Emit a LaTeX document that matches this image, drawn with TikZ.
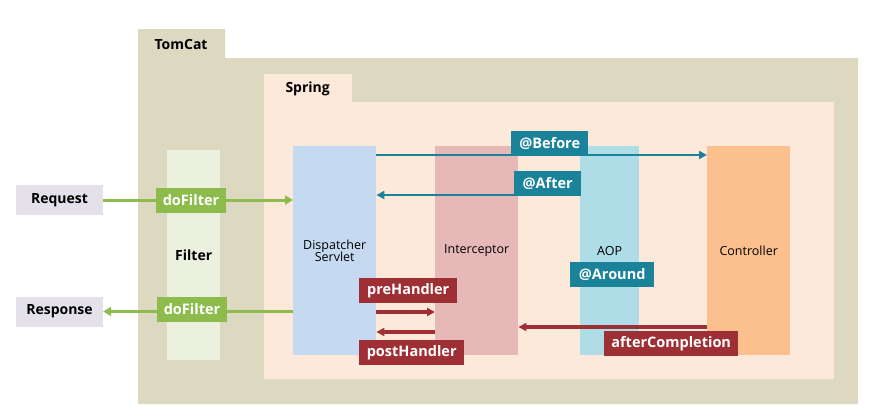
\documentclass[tikz,border=0pt]{standalone}
\usepackage{fontspec}
\setmainfont{Open Sans}
\usetikzlibrary{arrows.meta}
\definecolor{tomcatbg}{HTML}{DDD8C0}
\definecolor{springbg}{HTML}{FDE9D9}
\definecolor{filterbg}{HTML}{EBF1DE}
\definecolor{dispbg}{HTML}{C5D9F1}
\definecolor{interbg}{HTML}{E6B9B8}
\definecolor{aopbg}{HTML}{AEDDE8}
\definecolor{ctrlbg}{HTML}{FBC08E}
\definecolor{greenc}{HTML}{8DBB4C}
\definecolor{tealc}{HTML}{1A8399}
\definecolor{redc}{HTML}{9E2F35}
\definecolor{reqbg}{HTML}{E4E1EA}
\tikzset{
  column/.style={anchor=north west, inner sep=0pt, minimum width=#1, minimum height=209pt, font=\fontsize{12.5}{14}\selectfont, align=center},
  endbox/.style={fill=reqbg, inner sep=0pt, minimum width=87pt, minimum height=30pt, font=\fontsize{14}{16}\selectfont\bfseries},
  lbl/.style={fill=#1, text=white, inner sep=0pt, minimum height=25pt, font=\fontsize{14.5}{16}\selectfont\bfseries},
  garrow/.style={draw=greenc, line width=3pt, -{Triangle[width=9pt,length=8pt]}},
  tarrow/.style={draw=tealc, line width=2.8pt, -{Triangle[width=8pt,length=8pt]}},
  rarrow/.style={draw=redc, line width=3.2pt, -{Triangle[width=8pt,length=8pt]}},
  title/.style={font=\fontsize{14}{16}\selectfont\bfseries, anchor=west}
}
\begin{document}
\begin{tikzpicture}[x=1pt,y=-1pt]
\useasboundingbox (0,0) rectangle (871,418);
% containers
\fill[tomcatbg] (138,29) -- (225,29) -- (225,58) -- (858,58) -- (858,404) -- (138,404) -- cycle;
\node[title] (tomcat) at (151,44) {TomCat};
\fill[springbg] (264,74) -- (352,74) -- (352,102) -- (834,102) -- (834,379) -- (264,379) -- cycle;
\node[title] (spring) at (282,89) {Spring};
% columns
\node[column=53pt, minimum height=210pt, fill=filterbg, font=\fontsize{14}{16}\selectfont\bfseries] (filter) at (167,150) {Filter};
\node[column=83pt, fill=dispbg] (disp) at (293,146) {Dispatcher\\[-2pt]Servlet};
\node[column=83pt, fill=interbg] (inter) at (435,146) {\raisebox{-2pt}{Interceptor}};
\node[column=59pt, fill=aopbg] (aop) at (580,146) {\raisebox{-2pt}{AOP}};
\node[column=83pt, fill=ctrlbg] (ctrl) at (707,146) {\raisebox{-2pt}{Controller}};
% request / response
\node[endbox] (req) at (59.5,200) {Request};
\node[endbox] (resp) at (59.5,311.5) {Response};
% green arrows
\draw[garrow] (req.east) -- (disp.west |- req.east);
\draw[garrow] (disp.west |- resp.east) -- (resp.east);
\node[lbl=greenc, minimum width=70pt] (df1) at (191,200) {doFilter};
\node[lbl=greenc, minimum width=70pt] (df2) at (192,309) {doFilter};
% teal arrows
\coordinate (bstart) at (disp.east |- 0,155);
\coordinate (bend) at (ctrl.west |- 0,155);
\draw[tarrow] (bstart) -- (bend);
\node[lbl=tealc, minimum width=77pt, anchor=south west] (before) at (511,156) {@Before};
\coordinate (astart) at (aop.west |- 0,195);
\coordinate (aend) at (disp.east |- 0,195);
\draw[tarrow] (astart) -- (aend);
\node[lbl=tealc, minimum width=67pt, anchor=south west] (after) at (514,196) {@After};
\node[lbl=tealc, minimum width=84pt, anchor=north west] (around) at (570,262) {@Around};
% red arrows
\coordinate (pstart) at (disp.east |- 0,312);
\coordinate (pend) at (inter.west |- 0,312);
\draw[rarrow] (pstart) -- (pend);
\node[lbl=redc, minimum width=98pt, anchor=north west] (pre) at (359,278) {preHandler};
\coordinate (qstart) at (inter.west |- 0,332);
\coordinate (qend) at (disp.east |- 0,332);
\draw[rarrow] (qstart) -- (qend);
\node[lbl=redc, minimum width=105pt, anchor=north west] (post) at (359,340) {postHandler};
\coordinate (cstart) at (ctrl.west |- 0,327);
\coordinate (cend) at (inter.east |- 0,327);
\draw[rarrow] (cstart) -- (cend);
\node[lbl=redc, minimum width=134pt, anchor=north west] (after2) at (604,331) {afterCompletion};
\end{tikzpicture}
\end{document}
